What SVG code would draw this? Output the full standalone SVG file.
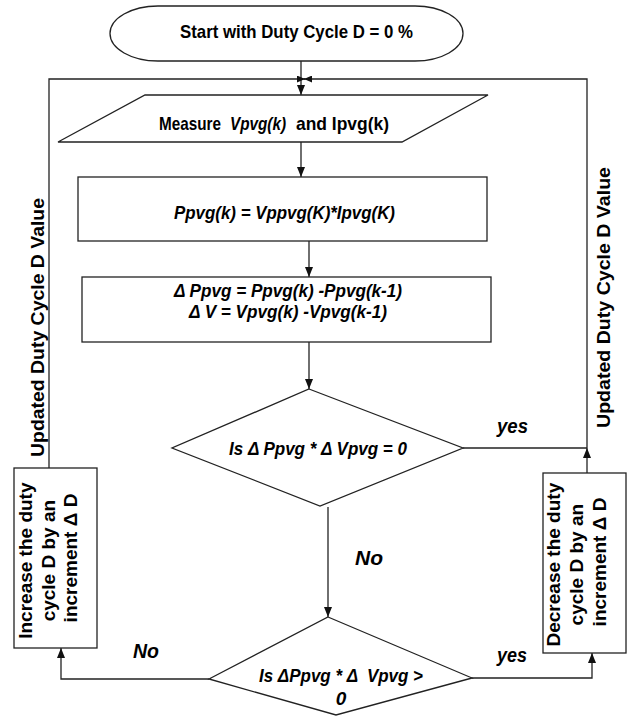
<svg xmlns="http://www.w3.org/2000/svg" width="630" height="722" viewBox="0 0 630 722">
<style>
.shape{fill:#fff;stroke:#222;stroke-width:1.3}
.conn{fill:none;stroke:#222;stroke-width:1.3}
.t{font-family:"Liberation Sans",Arial,sans-serif;font-weight:bold;fill:#000}
.n{font-size:19px}
.i{font-style:italic}
.w{font-size:19px}
.lab{font-size:20px}
</style>
<defs>
<marker id="ah" markerUnits="userSpaceOnUse" markerWidth="10" markerHeight="8" refX="10" refY="4" orient="auto">
<path d="M0,0 L10,4 L0,8 Z" fill="#111"/>
</marker>
<marker id="ahs" markerUnits="userSpaceOnUse" markerWidth="8" markerHeight="7" refX="8" refY="3.5" orient="auto">
<path d="M0,0 L8,3.5 L0,7 Z" fill="#111"/>
</marker>
</defs>
<rect width="630" height="722" fill="#fff"/>
<g id="connectors">
<path class="conn" d="M301,61 V95" marker-end="url(#ah)"/>
<path class="conn" d="M49,468 V79 H305" marker-end="url(#ahs)"/>
<path class="conn" d="M587,448 V79 H304" marker-end="url(#ahs)"/>
<path class="conn" d="M301,142 V177" marker-end="url(#ah)"/>
<path class="conn" d="M309,241 V277" marker-end="url(#ah)"/>
<path class="conn" d="M309,342 V389" marker-end="url(#ah)"/>
<path class="conn" d="M463,448 H587"/>
<path class="conn" d="M587,473 V448" marker-end="url(#ah)"/>
<path class="conn" d="M328,507 V617" marker-end="url(#ah)"/>
<path class="conn" d="M209,679 H61 V648" marker-end="url(#ah)"/>
<path class="conn" d="M472,678 H592 V653" marker-end="url(#ah)"/>
<text class="t lab i" x="497" y="433" textLength="31" lengthAdjust="spacingAndGlyphs">yes</text>
<text class="t lab i" x="355" y="565" textLength="28" lengthAdjust="spacingAndGlyphs">No</text>
<text class="t lab i" x="133" y="658" textLength="26" lengthAdjust="spacingAndGlyphs">No</text>
<text class="t lab i" x="497" y="662" textLength="30" lengthAdjust="spacingAndGlyphs">yes</text>
<text class="t w" x="44" y="327.5" text-anchor="middle" transform="rotate(-90 44 327.5)" textLength="259" lengthAdjust="spacingAndGlyphs">Updated Duty Cycle D Value</text>
<text class="t w" x="610" y="297.5" text-anchor="middle" transform="rotate(-90 610 297.5)" textLength="261" lengthAdjust="spacingAndGlyphs">Updated Duty Cycle D Value</text>
</g>
<g id="start">
<rect class="shape" x="110" y="6" width="353" height="55" rx="48" ry="27.5"/>
<text class="t n" x="180" y="38" textLength="233" lengthAdjust="spacingAndGlyphs">Start with Duty Cycle D = 0 %</text>
</g>
<g id="measure">
<polygon class="shape" points="145,95 488,95 402,142 58,142"/>
<text class="t n" x="159" y="130" textLength="62" lengthAdjust="spacingAndGlyphs">Measure</text>
<text class="t n i" x="230" y="130" textLength="56" lengthAdjust="spacingAndGlyphs">Vpvg(k)</text>
<text class="t n" x="296" y="130" textLength="93" lengthAdjust="spacingAndGlyphs">and Ipvg(k)</text>
</g>
<g id="power">
<rect class="shape" x="78" y="177" width="409" height="64"/>
<text class="t n i" x="174" y="219" textLength="221" lengthAdjust="spacingAndGlyphs">Ppvg(k) = Vppvg(K)*Ipvg(K)</text>
</g>
<g id="delta">
<rect class="shape" x="82" y="277" width="409" height="65"/>
<text class="t n i" x="174" y="297" textLength="228" lengthAdjust="spacingAndGlyphs">Δ Ppvg = Ppvg(k) -Ppvg(k-1)</text>
<text class="t n i" x="189" y="318" textLength="198" lengthAdjust="spacingAndGlyphs">Δ V = Vpvg(k) -Vpvg(k-1)</text>
</g>
<g id="decision1">
<polygon class="shape" points="309,389 463,448 320,506 172,448"/>
<text class="t n i" x="229" y="455" textLength="178" lengthAdjust="spacingAndGlyphs">Is Δ Ppvg * Δ Vpvg = 0</text>
</g>
<g id="decision2">
<polygon class="shape" points="328,617 472,678 336,715 209,679"/>
<text class="t n i" x="259" y="682" textLength="164" lengthAdjust="spacingAndGlyphs" style="white-space:pre">Is ΔPpvg * Δ  Vpvg &gt;</text>
<text class="t n i" x="341" y="705" text-anchor="middle">0</text>
</g>
<g id="increase">
<rect class="shape" x="14" y="468" width="83" height="180"/>
<text class="t w" transform="rotate(-90 55.5 558)">
<tspan x="55.5" y="534.5" text-anchor="middle">Increase the duty</tspan>
<tspan x="55.5" y="557" text-anchor="middle">cycle D by an</tspan>
<tspan x="55.5" y="579.5" text-anchor="middle">increment Δ D</tspan>
</text>
</g>
<g id="decrease">
<rect class="shape" x="543" y="473" width="83" height="180"/>
<text class="t w" transform="rotate(-90 584.5 562)">
<tspan x="584.5" y="537.5" text-anchor="middle">Decrease the duty</tspan>
<tspan x="584.5" y="560.5" text-anchor="middle">cycle D by an</tspan>
<tspan x="584.5" y="583" text-anchor="middle">increment Δ D</tspan>
</text>
</g>
</svg>
